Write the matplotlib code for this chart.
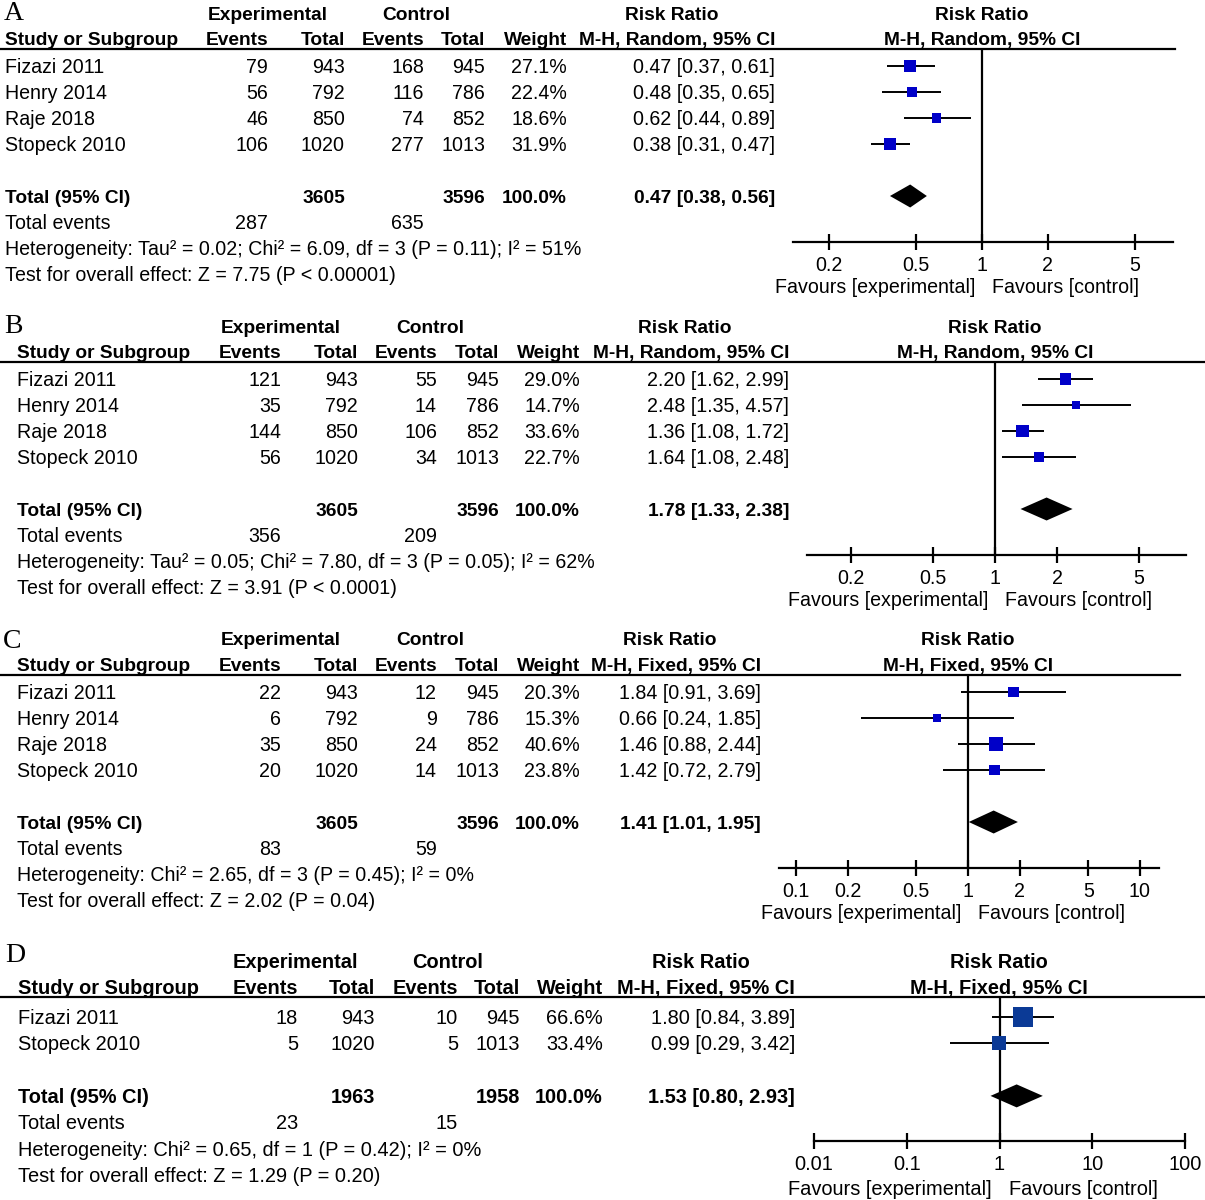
import matplotlib
matplotlib.use("Agg")
import matplotlib.pyplot as plt
from matplotlib.lines import Line2D
import numpy as np

# ------------------------------------------------------------------ data
studies_4 = ["Fizazi 2011", "Henry 2014", "Raje 2018", "Stopeck 2010"]
studies_D = ["Fizazi 2011", "Stopeck 2010"]

A_exp_events = [79, 56, 46, 106]
A_exp_total = [943, 792, 850, 1020]
A_ctl_events = [168, 116, 74, 277]
A_ctl_total = [945, 786, 852, 1013]
A_weight = [27.1, 22.4, 18.6, 31.9]
A_rr = [0.47, 0.48, 0.62, 0.38]
A_lo = [0.37, 0.35, 0.44, 0.31]
A_hi = [0.61, 0.65, 0.89, 0.47]
A_totals = [3605, 3596]
A_total_events = [287, 635]
A_pooled = [0.47, 0.38, 0.56]
A_het = "Heterogeneity: Tau² = 0.02; Chi² = 6.09, df = 3 (P = 0.11); I² = 51%"
A_test = "Test for overall effect: Z = 7.75 (P < 0.00001)"
A_ticks = [0.2, 0.5, 1, 2, 5]
A_method = "M-H, Random, 95% CI"

B_exp_events = [121, 35, 144, 56]
B_exp_total = [943, 792, 850, 1020]
B_ctl_events = [55, 14, 106, 34]
B_ctl_total = [945, 786, 852, 1013]
B_weight = [29.0, 14.7, 33.6, 22.7]
B_rr = [2.20, 2.48, 1.36, 1.64]
B_lo = [1.62, 1.35, 1.08, 1.08]
B_hi = [2.99, 4.57, 1.72, 2.48]
B_totals = [3605, 3596]
B_total_events = [356, 209]
B_pooled = [1.78, 1.33, 2.38]
B_het = "Heterogeneity: Tau² = 0.05; Chi² = 7.80, df = 3 (P = 0.05); I² = 62%"
B_test = "Test for overall effect: Z = 3.91 (P < 0.0001)"
B_ticks = [0.2, 0.5, 1, 2, 5]
B_method = "M-H, Random, 95% CI"

C_exp_events = [22, 6, 35, 20]
C_exp_total = [943, 792, 850, 1020]
C_ctl_events = [12, 9, 24, 14]
C_ctl_total = [945, 786, 852, 1013]
C_weight = [20.3, 15.3, 40.6, 23.8]
C_rr = [1.84, 0.66, 1.46, 1.42]
C_lo = [0.91, 0.24, 0.88, 0.72]
C_hi = [3.69, 1.85, 2.44, 2.79]
C_totals = [3605, 3596]
C_total_events = [83, 59]
C_pooled = [1.41, 1.01, 1.95]
C_het = "Heterogeneity: Chi² = 2.65, df = 3 (P = 0.45); I² = 0%"
C_test = "Test for overall effect: Z = 2.02 (P = 0.04)"
C_ticks = [0.1, 0.2, 0.5, 1, 2, 5, 10]
C_method = "M-H, Fixed, 95% CI"

D_exp_events = [18, 5]
D_exp_total = [943, 1020]
D_ctl_events = [10, 5]
D_ctl_total = [945, 1013]
D_weight = [66.6, 33.4]
D_rr = [1.80, 0.99]
D_lo = [0.84, 0.29]
D_hi = [3.89, 3.42]
D_totals = [1963, 1958]
D_total_events = [23, 15]
D_pooled = [1.53, 0.80, 2.93]
D_het = "Heterogeneity: Chi² = 0.65, df = 1 (P = 0.42); I² = 0%"
D_test = "Test for overall effect: Z = 1.29 (P = 0.20)"
D_ticks = [0.01, 0.1, 1, 10, 100]
D_method = "M-H, Fixed, 95% CI"

# ------------------------------------------------------------------ layout / style
W, H, DPI = 1205, 1200, 100
SANS = "Liberation Sans"
SERIF = "Liberation Serif"
BASE_OFF = 7

LAYOUT = {
    "A": dict(label="A", lx=4, ly=13, h1=13, h2=38, y0=66, pitch=26.0,
              sx=5, ee=268, et=345, ce=424, ct=485, wt=567, ci=775,
              exp_c=268, ctl_c=416, rr_c=672,
              line_y=49, line_r=1175, axis_y=242, ax_l=793, ax_r=1173,
              one=982, dec=219, tick_y=262, fav_y=286,
              col="#0000c8", k=2.2, fs=14.1, fsb=13.8),
    "B": dict(label="B", lx=4, ly=326, h1=326, h2=351, y0=379, pitch=26.0,
              sx=17, ee=281, et=358, ce=437, ct=499, wt=580, ci=789,
              exp_c=281, ctl_c=430, rr_c=685,
              line_y=362, line_r=1205, axis_y=555, ax_l=807, ax_r=1186,
              one=995, dec=206, tick_y=575, fav_y=599,
              col="#0000c8", k=2.2, fs=14.1, fsb=13.8),
    "C": dict(label="C", lx=3, ly=642, h1=638, h2=664, y0=692, pitch=26.0,
              sx=17, ee=281, et=358, ce=437, ct=499, wt=580, ci=761,
              exp_c=281, ctl_c=430, rr_c=670,
              line_y=675, line_r=1180, axis_y=868, ax_l=779, ax_r=1159,
              one=968, dec=172, tick_y=887, fav_y=912,
              col="#0000c8", k=2.25, fs=14.1, fsb=13.8),
    "D": dict(label="D", lx=5, ly=955, h1=961, h2=987, y0=1017, pitch=26.3,
              sx=18, ee=298, et=375, ce=458, ct=520, wt=603, ci=795,
              exp_c=295, ctl_c=448, rr_c=701,
              line_y=997, line_r=1205, axis_y=1141, ax_l=814, ax_r=1185,
              one=999, dec=93, tick_y=1163, fav_y=1188,
              col="#0b3a96", k=2.45, fs=14.4, fsb=14.4),
}

fig = plt.figure(figsize=(W / DPI, H / DPI), dpi=DPI)
fig.patch.set_facecolor("white")


def txt(x, y, s, size, ha="left", bold=False, family=SANS):
    fig.text(x / W, 1 - (y + BASE_OFF) / H, s, ha=ha, va="baseline",
             fontsize=size, fontweight="bold" if bold else "normal",
             family=family, color="black")


def fmt_tick(t):
    return f"{t:g}"


def draw_panel(P, studies, ee, et, ce, ct, wt, rr, lo, hi, totals, tev,
               pooled, het, test, ticks, method):
    y0, pitch = P["y0"], P["pitch"]
    fs, fsb = P["fs"], P["fsb"]
    rowy = lambda r: y0 + pitch * r
    n = len(studies)

    # panel letter
    fig.text(P["lx"] / W, 1 - P["ly"] / H, P["label"], ha="left", va="center",
             fontsize=20, family=SERIF)

    # header row 1
    txt(P["exp_c"], P["h1"], "Experimental", fsb, ha="center", bold=True)
    txt(P["ctl_c"], P["h1"], "Control", fsb, ha="center", bold=True)
    txt(P["rr_c"], P["h1"], "Risk Ratio", fsb, ha="center", bold=True)
    txt(P["one"], P["h1"], "Risk Ratio", fsb, ha="center", bold=True)
    # header row 2
    txt(P["sx"], P["h2"], "Study or Subgroup", fsb, bold=True)
    txt(P["ee"], P["h2"], "Events", fsb, ha="right", bold=True)
    txt(P["et"], P["h2"], "Total", fsb, ha="right", bold=True)
    txt(P["ce"], P["h2"], "Events", fsb, ha="right", bold=True)
    txt(P["ct"], P["h2"], "Total", fsb, ha="right", bold=True)
    txt(P["wt"], P["h2"], "Weight", fsb, ha="right", bold=True)
    txt(P["ci"], P["h2"], method, fsb, ha="right", bold=True)
    txt(P["one"], P["h2"], method, fsb, ha="center", bold=True)

    # header rule
    fig.add_artist(Line2D([0, P["line_r"] / W],
                          [1 - P["line_y"] / H, 1 - P["line_y"] / H],
                          color="black", lw=1.6))

    # study rows
    for i in range(n):
        y = rowy(i)
        txt(P["sx"], y, studies[i], fs)
        txt(P["ee"], y, str(ee[i]), fs, ha="right")
        txt(P["et"], y, str(et[i]), fs, ha="right")
        txt(P["ce"], y, str(ce[i]), fs, ha="right")
        txt(P["ct"], y, str(ct[i]), fs, ha="right")
        txt(P["wt"], y, f"{wt[i]:.1f}%", fs, ha="right")
        txt(P["ci"], y, f"{rr[i]:.2f} [{lo[i]:.2f}, {hi[i]:.2f}]", fs, ha="right")

    # total row
    rt = n + 1
    y = rowy(rt)
    txt(P["sx"], y, "Total (95% CI)", fsb, bold=True)
    txt(P["et"], y, str(totals[0]), fsb, ha="right", bold=True)
    txt(P["ct"], y, str(totals[1]), fsb, ha="right", bold=True)
    txt(P["wt"], y, f"{sum(wt):.1f}%", fsb, ha="right", bold=True)
    txt(P["ci"], y, f"{pooled[0]:.2f} [{pooled[1]:.2f}, {pooled[2]:.2f}]",
        fsb, ha="right", bold=True)
    y = rowy(n + 2)
    txt(P["sx"], y, "Total events", fs)
    txt(P["ee"], y, str(tev[0]), fs, ha="right")
    txt(P["ce"], y, str(tev[1]), fs, ha="right")
    txt(P["sx"], rowy(n + 3), het, fs)
    txt(P["sx"], rowy(n + 4), test, fs)

    # forest axes
    l, r, t, b = P["ax_l"], P["ax_r"], P["line_y"], P["axis_y"]
    ax = fig.add_axes([l / W, 1 - b / H, (r - l) / W, (b - t) / H])
    ax.patch.set_visible(False)
    ax.set_xscale("log")
    ax.set_xlim(10 ** ((l - P["one"]) / P["dec"]), 10 ** ((r - P["one"]) / P["dec"]))
    ax.set_ylim((b - y0) / pitch, (t - y0) / pitch)
    for s in ("top", "left", "right"):
        ax.spines[s].set_visible(False)
    ax.spines["bottom"].set_linewidth(1.6)
    ax.set_yticks([])
    ax.set_xticks(ticks)
    ax.set_xticklabels([fmt_tick(t_) for t_ in ticks])
    ax.xaxis.set_minor_locator(matplotlib.ticker.NullLocator())
    ax.tick_params(axis="x", direction="inout", length=12, width=1.6,
                   pad=4, labelsize=fs)
    for lab in ax.get_xticklabels():
        lab.set_family(SANS)
    ax.axvline(1, color="black", lw=1.6, zorder=1)

    rows = np.arange(n)
    ax.hlines(rows, lo, hi, color="black", lw=1.4, zorder=2)
    side_pt = P["k"] * np.sqrt(np.array(wt)) * 72 / DPI
    ax.scatter(rr, rows, marker="s", s=side_pt ** 2, color=P["col"],
               linewidths=0, zorder=3)
    hh = 11.5 / pitch
    ax.fill([pooled[1], pooled[0], pooled[2], pooled[0]],
            [rt, rt - hh, rt, rt + hh], color="black", lw=0, zorder=3)

    # favours labels
    txt(P["one"] - 7, P["fav_y"], "Favours [experimental]", fs, ha="right")
    txt(P["one"] + 10, P["fav_y"], "Favours [control]", fs, ha="left")


draw_panel(LAYOUT["A"], studies_4, A_exp_events, A_exp_total, A_ctl_events,
           A_ctl_total, A_weight, A_rr, A_lo, A_hi, A_totals, A_total_events,
           A_pooled, A_het, A_test, A_ticks, A_method)
draw_panel(LAYOUT["B"], studies_4, B_exp_events, B_exp_total, B_ctl_events,
           B_ctl_total, B_weight, B_rr, B_lo, B_hi, B_totals, B_total_events,
           B_pooled, B_het, B_test, B_ticks, B_method)
draw_panel(LAYOUT["C"], studies_4, C_exp_events, C_exp_total, C_ctl_events,
           C_ctl_total, C_weight, C_rr, C_lo, C_hi, C_totals, C_total_events,
           C_pooled, C_het, C_test, C_ticks, C_method)
draw_panel(LAYOUT["D"], studies_D, D_exp_events, D_exp_total, D_ctl_events,
           D_ctl_total, D_weight, D_rr, D_lo, D_hi, D_totals, D_total_events,
           D_pooled, D_het, D_test, D_ticks, D_method)

fig.savefig("out.png", dpi=DPI, facecolor="white")
